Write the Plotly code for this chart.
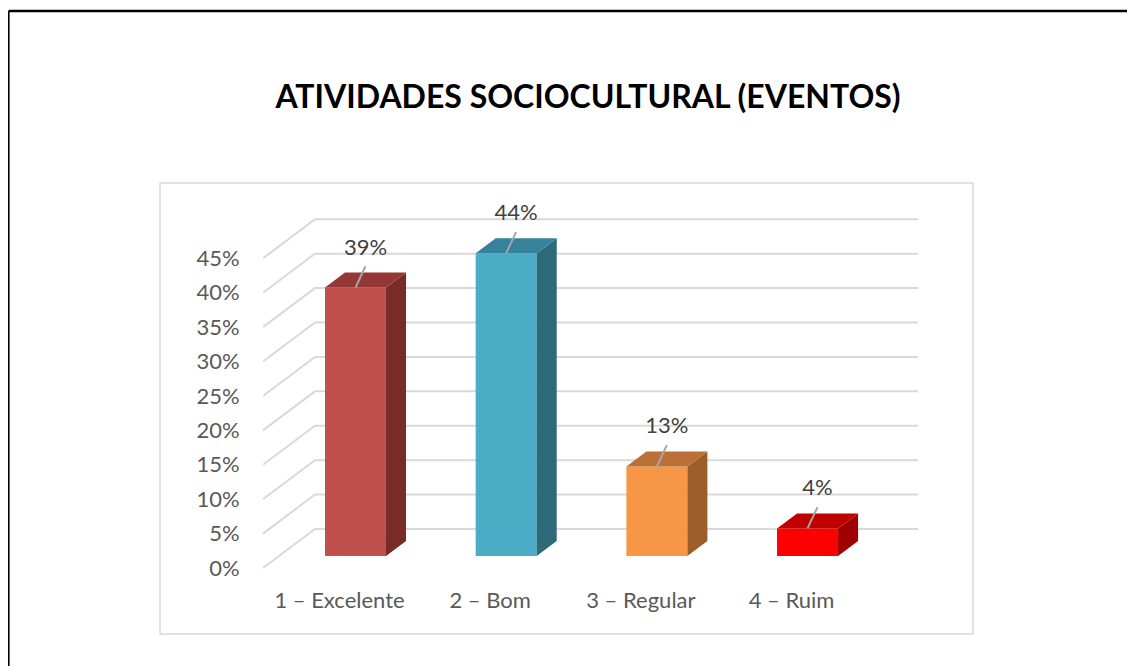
import plotly.graph_objects as go

# chart data
categories = ["1 – Excelente", "2 – Bom", "3 – Regular", "4 – Ruim"]
values = [39, 44, 13, 4]
y_ticks = [0, 5, 10, 15, 20, 25, 30, 35, 40, 45]

front_colors = ["#C0504D", "#4BACC6", "#F79646", "#FF0000"]
top_colors = ["#953735", "#36829A", "#BA7036", "#C00000"]
side_colors = ["#772C2A", "#2E6A7A", "#9C5E2B", "#A00000"]

PAGE_W, PAGE_H = 1135, 666
OFF = 8  # the page body adds an 8px margin, so work in page pixels and shift
W, H = PAGE_W - OFF, PAGE_H - OFF
# plot area in page pixels
L, R, T, B = 263, 918, 205, 572

# fake-3d geometry, in axis units
X_RANGE = [-0.614, 3.733]
Y_RANGE = [-2.33, 51.0]
DEPTH_X, DEPTH_Y = 0.345, 5.67      # full depth of the floor / side wall
BAR_DEPTH = 0.308                   # where the bar fronts sit
BAR_LEN = 0.385                     # how deep the bars are
BAR_W = 0.405

grid_col = "#D9D9D9"
text_font = dict(family="Lato", size=22, color="#595959")
fig = go.Figure()


def px_x(p):
    return (p - L) / (R - L)


def px_y(p):
    return (B - p) / (B - T)


back_dy = (1 - BAR_DEPTH) * DEPTH_Y
front_dy = -BAR_DEPTH * DEPTH_Y
back_left = X_RANGE[0] + DEPTH_X

shapes = [
    # chart area border
    dict(type="rect", xref="paper", yref="paper",
         x0=px_x(160), x1=px_x(973), y0=px_y(634), y1=px_y(183),
         line=dict(color="#D9D9D9", width=1.5), layer="below"),
    # outer black frame (top and left edges)
    dict(type="line", xref="paper", yref="paper",
         x0=px_x(OFF + 0.6), x1=px_x(PAGE_W + 20), y0=px_y(11), y1=px_y(11),
         line=dict(color="black", width=2.5)),
    dict(type="line", xref="paper", yref="paper",
         x0=px_x(OFF + 0.6), x1=px_x(OFF + 0.6), y0=px_y(11), y1=px_y(PAGE_H + 20),
         line=dict(color="black", width=2)),
]

# back wall gridlines and diagonal side-wall lines, kept behind the bars
for v in y_ticks:
    shapes.append(dict(
        type="path", xref="x", yref="y", layer="below",
        path=f"M {X_RANGE[0]},{v + front_dy} L {back_left},{v + back_dy} "
             f"L {X_RANGE[1]},{v + back_dy}",
        line=dict(color=grid_col, width=2)))

# side and top faces of each bar
bdx, bdy = BAR_LEN * DEPTH_X, BAR_LEN * DEPTH_Y
for i, v in enumerate(values):
    xl, xr = i - BAR_W / 2, i + BAR_W / 2
    fig.add_trace(go.Scatter(
        x=[xr, xr, xr + bdx, xr + bdx, xr],
        y=[0, v, v + bdy, bdy, 0],
        mode="lines", fill="toself", fillcolor=side_colors[i],
        line=dict(width=0), hoverinfo="skip", showlegend=False))
    fig.add_trace(go.Scatter(
        x=[xl, xr, xr + bdx, xl + bdx, xl],
        y=[v, v, v + bdy, v + bdy, v],
        mode="lines", fill="toself", fillcolor=top_colors[i],
        line=dict(width=0), hoverinfo="skip", showlegend=False))

# data label leader lines and labels
for i, v in enumerate(values):
    fig.add_trace(go.Scatter(
        x=[i, i + 0.066], y=[v, v + 3.1],
        mode="lines", line=dict(color="#A6A6A6", width=2),
        hoverinfo="skip", showlegend=False))
fig.add_trace(go.Scatter(
    x=[i + 0.066 for i in range(len(values))],
    y=[v + 5.6 for v in values],
    mode="text", text=[f"{v}%" for v in values],
    textfont=dict(family="Lato", size=22, color="#404040"),
    hoverinfo="skip", showlegend=False, cliponaxis=False))

# bar fronts
fig.add_trace(go.Bar(
    x=list(range(len(values))), y=values, width=BAR_W,
    marker=dict(color=front_colors, line=dict(width=0)),
    hoverinfo="skip", showlegend=False))

fig.update_layout(
    width=W, height=H, autosize=False,
    margin=dict(l=L - OFF, r=W - (R - OFF), t=T - OFF, b=H - (B - OFF), pad=0),
    paper_bgcolor="white", plot_bgcolor="white",
    title=dict(text="<b>ATIVIDADES SOCIOCULTURAL (EVENTOS)</b>",
               x=(588 - OFF) / W, y=1 - (97 - OFF) / H,
               xref="container", yref="container",
               xanchor="center", yanchor="middle",
               font=dict(family="Lato", size=32, color="black")),
    xaxis=dict(range=X_RANGE, showgrid=False, zeroline=False, showline=False,
               tickmode="array",
               tickvals=[i - BAR_DEPTH * DEPTH_X for i in range(len(categories))],
               ticktext=categories, ticks="outside", ticklen=9,
               tickcolor="rgba(0,0,0,0)", automargin=False, tickfont=text_font),
    yaxis=dict(range=Y_RANGE, showgrid=False, zeroline=False, showline=False,
               tickmode="array", tickvals=[v + front_dy for v in y_ticks],
               ticktext=[f"{v}%" for v in y_ticks], ticks="outside",
               ticklen=18, tickcolor="rgba(0,0,0,0)", automargin=False,
               tickfont=text_font),
    shapes=shapes,
)

fig.write_html("out.html")
